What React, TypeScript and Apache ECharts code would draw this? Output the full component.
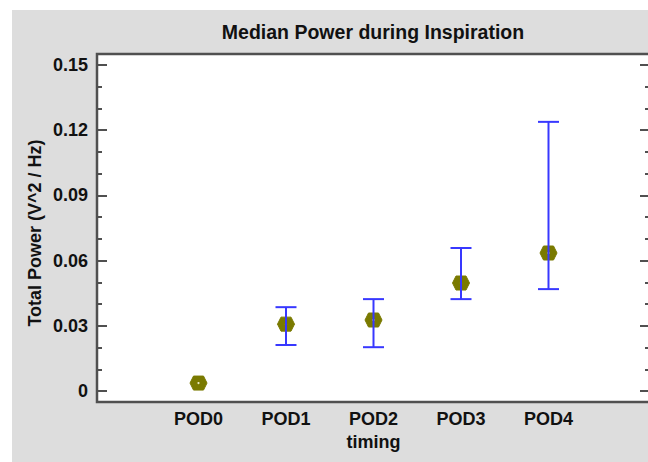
import React, { useEffect, useRef } from "react";
import * as echarts from "echarts";

const categories = ["POD0", "POD1", "POD2", "POD3", "POD4"];
const medians = [0.0037, 0.0308, 0.0327, 0.0497, 0.0635];
const lowers: (number | null)[] = [null, 0.0212, 0.0202, 0.0423, 0.0469];
const uppers: (number | null)[] = [null, 0.0386, 0.0423, 0.0658, 0.1238];
const majorTicks = [0, 0.03, 0.06, 0.09, 0.12, 0.15];
const minorTicks = [0.01, 0.02, 0.04, 0.05, 0.07, 0.08, 0.1, 0.11, 0.13, 0.14];
const tickLabels = ["0", "0.03", "0.06", "0.09", "0.12", "0.15"];

const FONT = "'Liberation Sans', Arial, sans-serif";
const TXT = "#111111";
const AXC = "#505050";

export default function App() {
  const ref = useRef<HTMLDivElement>(null);
  useEffect(() => {
    const chart = echarts.init(ref.current!, null, { renderer: "svg" });
    const data = categories.map((_, i) => [i, medians[i], lowers[i], uppers[i]]);
    const yBase = {
      type: "value",
      min: -0.005,
      max: 0.155,
      gridIndex: 0,
      splitLine: { show: false },
      axisLine: { show: false, onZero: false },
    } as any;
    const option: any = {
      animation: false,
      backgroundColor: "#ffffff",
      graphic: [
        { type: "rect", z: -10, shape: { x: 12, y: 10, width: 660, height: 460 }, style: { fill: "#dddddd" } },
        {
          type: "text",
          x: 35,
          y: 233,
          rotation: Math.PI / 2,
          style: {
            text: "Total Power (V^2 / Hz)",
            font: `bold 18px ${FONT}`,
            fill: TXT,
            align: "center",
            verticalAlign: "middle",
          },
        },
      ],
      title: {
        text: "Median Power during Inspiration",
        left: 368,
        textAlign: "center",
        top: 17,
        textStyle: { fontFamily: FONT, fontWeight: "bold", fontSize: 19.5, color: TXT },
      },
      grid: {
        left: 97,
        top: 54,
        right: 0,
        bottom: 60,
        show: true,
        backgroundColor: "#ffffff",
        borderColor: AXC,
        borderWidth: 2.5,
      },
      xAxis: {
        type: "value",
        min: -1.16,
        max: 5.16,
        name: "timing",
        nameLocation: "middle",
        nameGap: 30,
        nameTextStyle: { fontFamily: FONT, fontWeight: "bold", fontSize: 18, color: TXT },
        axisLine: { show: false, onZero: false },
        axisTick: { show: false },
        splitLine: { show: false },
        axisLabel: {
          customValues: [0, 1, 2, 3, 4],
          formatter: (v: number) => categories[Math.round(v)] ?? "",
          fontFamily: FONT,
          fontWeight: "bold",
          fontSize: 18,
          color: TXT,
          margin: 8,
        },
      },
      yAxis: [
        {
          ...yBase,
          position: "left",
          axisTick: { show: true, inside: true, length: 10, customValues: majorTicks, lineStyle: { color: AXC, width: 2 } },
          axisLabel: {
            customValues: majorTicks,
            formatter: (v: number) => tickLabels[majorTicks.findIndex((t) => Math.abs(t - v) < 1e-6)] ?? "",
            fontFamily: FONT,
            fontWeight: "bold",
            fontSize: 18,
            color: TXT,
            margin: 9,
          },
        },
        {
          ...yBase,
          position: "left",
          offset: 0,
          axisTick: { show: true, inside: true, length: 5, customValues: minorTicks, lineStyle: { color: AXC, width: 2 } },
          axisLabel: { show: false },
        },
        {
          ...yBase,
          position: "right",
          offset: 0,
          axisTick: { show: true, inside: true, length: 10, customValues: majorTicks, lineStyle: { color: AXC, width: 2 } },
          axisLabel: { show: false },
        },
        {
          ...yBase,
          position: "right",
          offset: 0,
          axisTick: { show: true, inside: true, length: 5, customValues: minorTicks, lineStyle: { color: AXC, width: 2 } },
          axisLabel: { show: false },
        },
      ],
      series: [
        {
          type: "custom",
          xAxisIndex: 0,
          yAxisIndex: 0,
          data,
          renderItem: (params: any, api: any) => {
            const x = api.value(0);
            const m = api.value(1);
            const lo = api.value(2);
            const hi = api.value(3);
            const p = api.coord([x, m]);
            const cx = p[0];
            const cy = p[1];
            const children: any[] = [
              {
                type: "polygon",
                shape: {
                  points: [
                    [cx - 8.5, cy],
                    [cx - 5, cy - 7],
                    [cx + 5, cy - 7],
                    [cx + 8.5, cy],
                    [cx + 5, cy + 7],
                    [cx - 5, cy + 7],
                  ],
                },
                style: { fill: "#7a7a00", stroke: "#7a7a00", lineWidth: 1, lineJoin: "round" },
              },
              {
                type: "circle",
                shape: { cx, cy, r: 1.1 },
                style: { fill: "#e8e8c0" },
              },
            ];
            if (lo != null && hi != null && !isNaN(lo) && !isNaN(hi)) {
              const a = api.coord([x, lo]);
              const b = api.coord([x, hi]);
              const ls = { stroke: "#3838ff", lineWidth: 2 };
              children.push(
                { type: "line", shape: { x1: a[0], y1: a[1], x2: b[0], y2: b[1] }, style: ls },
                { type: "line", shape: { x1: a[0] - 10.5, y1: a[1], x2: a[0] + 10.5, y2: a[1] }, style: ls },
                { type: "line", shape: { x1: b[0] - 10.5, y1: b[1], x2: b[0] + 10.5, y2: b[1] }, style: ls }
              );
            }
            return { type: "group", children };
          },
        },
      ],
    };
    chart.setOption(option);
    return () => chart.dispose();
  }, []);
  return (
    <div
      ref={ref}
      style={{ position: "fixed", left: 0, top: 0, width: 650, height: 462 }}
    />
  );
}
